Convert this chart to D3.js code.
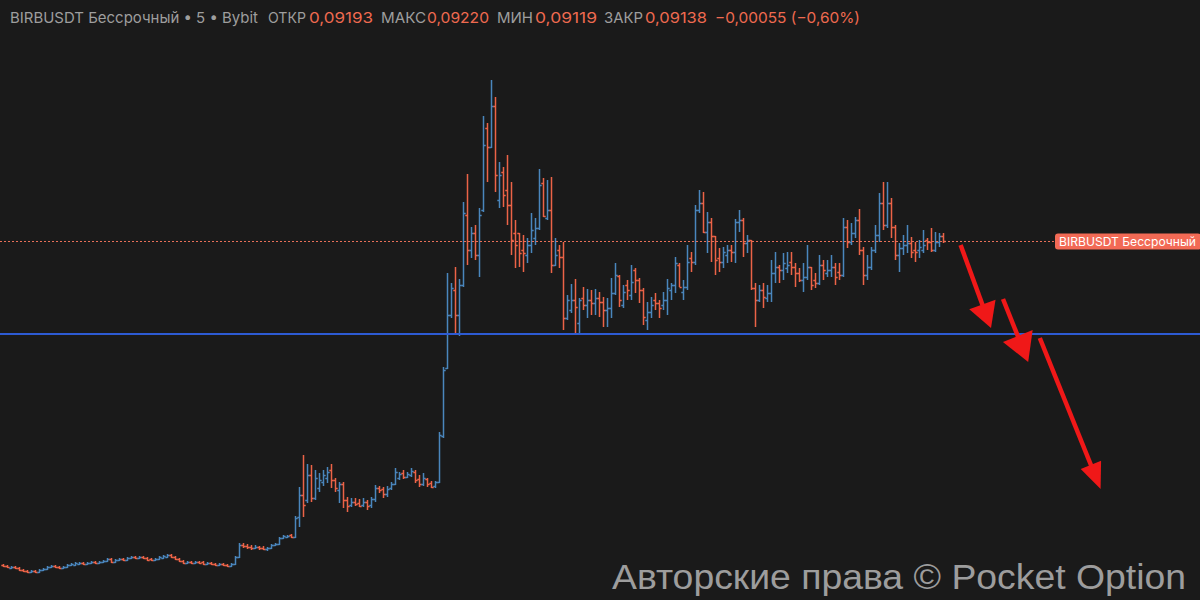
<!DOCTYPE html>
<html>
<head>
<meta charset="UTF-8" />
<title>BIRBUSDT</title>
<style>
  html, body { margin: 0; padding: 0; background: #1a1a1a; }
  svg { display: block; }
  .hdr { font-family: Inter, "Noto Sans", sans-serif; font-size: 15px; }
  .lbl { fill: #9e9e9e; }
  .val { fill: #ef6a50; }
  .wm { font-family: "Liberation Sans", Arial, sans-serif; font-size: 35px; fill: #9d9d9d; }
</style>
<script src="https://cdnjs.cloudflare.com/ajax/libs/d3/7.8.5/d3.min.js"></script>
</head>
<body>
<script>
// BIRBUSDT perpetual, 5 min bars (prices in USDT)
var opens = [
0.0590,0.0589,0.0587,0.0588,0.0587,0.0585,0.0584,0.0583,0.0584,0.0583,
0.0585,0.0586,0.0588,0.0589,0.0588,0.0587,0.0588,0.0590,0.0590,0.0591,
0.0592,0.0591,0.0592,0.0593,0.0592,0.0593,0.0594,0.0596,0.0593,0.0595,
0.0596,0.0595,0.0597,0.0598,0.0597,0.0598,0.0597,0.0596,0.0595,0.0596,
0.0597,0.0598,0.0600,0.0598,0.0596,0.0594,0.0592,0.0593,0.0592,0.0593,
0.0593,0.0591,0.0592,0.0591,0.0590,0.0591,0.0590,0.0589,0.0591,0.0598,
0.0610,0.0609,0.0608,0.0607,0.0608,0.0607,0.0606,0.0607,0.0610,0.0611,
0.0617,0.0618,0.0620,0.0618,0.0638,0.0660,0.0655,0.0680,0.0657,0.0667,
0.0673,0.0677,0.0685,0.0675,0.0665,0.0671,0.0655,0.0650,0.0653,0.0652,
0.0650,0.0653,0.0650,0.0656,0.0667,0.0666,0.0661,0.0667,0.0671,0.0677,
0.0682,0.0678,0.0680,0.0683,0.0676,0.0671,0.0676,0.0672,0.0669,0.0673,
0.0719,0.0787,0.0840,0.0865,0.0840,0.0870,0.0940,0.0905,0.0922,0.0900,
0.0945,0.1027,0.1008,0.1049,0.0955,0.0983,0.0965,0.0950,0.0922,0.0922,
0.0905,0.0900,0.0910,0.0917,0.0927,0.0972,0.0937,0.0945,0.0890,0.0905,
0.0898,0.0837,0.0845,0.0855,0.0832,0.0857,0.0850,0.0855,0.0852,0.0857,
0.0853,0.0845,0.0847,0.0862,0.0879,0.0850,0.0870,0.0860,0.0885,0.0875,
0.0865,0.0835,0.0843,0.0855,0.0852,0.0850,0.0855,0.0865,0.0870,0.0890,
0.0863,0.0868,0.0897,0.0893,0.0945,0.0952,0.0923,0.0933,0.0919,0.0897,
0.0893,0.0900,0.0905,0.0903,0.0933,0.0935,0.0912,0.0915,0.0867,0.0855,
0.0865,0.0857,0.0862,0.0882,0.0888,0.0885,0.0887,0.0893,0.0888,0.0882,
0.0875,0.0878,0.0888,0.0875,0.0872,0.0890,0.0882,0.0885,0.0888,0.0883,
0.0880,0.0928,0.0913,0.0922,0.0935,0.0905,0.0880,0.0888,0.0905,0.0920,
0.0952,0.0930,0.0952,0.0928,0.0900,0.0907,0.0910,0.0912,0.0905,0.0905,
0.0905,0.0915,0.0913,0.0905,0.0913,0.09193];

var highs = [
0.0591,0.0590,0.0589,0.0589,0.0588,0.0586,0.0585,0.0585,0.0585,0.0586,
0.0587,0.0589,0.0590,0.0590,0.0589,0.0589,0.0591,0.0592,0.0593,0.0593,
0.0593,0.0593,0.0594,0.0594,0.0594,0.0595,0.0597,0.0597,0.0596,0.0597,
0.0597,0.0598,0.0599,0.0599,0.0599,0.0599,0.0598,0.0597,0.0597,0.0599,
0.0600,0.0601,0.0601,0.0599,0.0597,0.0595,0.0594,0.0594,0.0594,0.0594,
0.0594,0.0593,0.0593,0.0592,0.0592,0.0592,0.0591,0.0592,0.0599,0.0612,
0.0612,0.0611,0.0610,0.0610,0.0609,0.0609,0.0608,0.0611,0.0612,0.0618,
0.0620,0.0620,0.0621,0.0639,0.0668,0.0700,0.0691,0.0690,0.0685,0.0682,
0.0685,0.0688,0.0691,0.0677,0.0673,0.0673,0.0658,0.0657,0.0657,0.0656,
0.0657,0.0655,0.0658,0.0670,0.0669,0.0668,0.0669,0.0673,0.0687,0.0683,
0.0685,0.0683,0.0687,0.0685,0.0680,0.0682,0.0677,0.0674,0.0674,0.0723,
0.0788,0.0882,0.0872,0.0888,0.0876,0.0953,0.0981,0.0928,0.0930,0.0947,
0.1039,0.1032,0.1075,0.1058,0.0993,0.0988,0.1000,0.0973,0.0935,0.0922,
0.0920,0.0917,0.0942,0.0937,0.0986,0.0977,0.0975,0.0978,0.0917,0.0910,
0.0913,0.0860,0.0871,0.0876,0.0857,0.0868,0.0866,0.0865,0.0866,0.0863,
0.0858,0.0857,0.0877,0.0892,0.0880,0.0870,0.0875,0.0890,0.0887,0.0877,
0.0867,0.0853,0.0858,0.0862,0.0855,0.0863,0.0876,0.0872,0.0898,0.0892,
0.0875,0.0910,0.0903,0.0950,0.0965,0.0963,0.0943,0.0937,0.0919,0.0907,
0.0908,0.0910,0.0910,0.0936,0.0945,0.0937,0.0920,0.0915,0.0872,0.0870,
0.0872,0.0870,0.0895,0.0903,0.0890,0.0902,0.0903,0.0903,0.0892,0.0887,
0.0892,0.0910,0.0888,0.0882,0.0900,0.0895,0.0895,0.0900,0.0892,0.0892,
0.0937,0.0935,0.0932,0.0938,0.0946,0.0908,0.0900,0.0908,0.0930,0.0962,
0.0973,0.0973,0.0957,0.0930,0.0912,0.0920,0.0930,0.0918,0.0913,0.0915,
0.0925,0.0917,0.0927,0.0923,0.0922,0.09220];

var lows = [
0.0588,0.0587,0.0586,0.0586,0.0584,0.0583,0.0582,0.0582,0.0582,0.0582,
0.0584,0.0585,0.0587,0.0587,0.0586,0.0586,0.0587,0.0589,0.0589,0.0590,
0.0590,0.0590,0.0591,0.0591,0.0591,0.0592,0.0593,0.0592,0.0592,0.0594,
0.0594,0.0594,0.0596,0.0596,0.0596,0.0596,0.0594,0.0594,0.0594,0.0595,
0.0596,0.0597,0.0597,0.0595,0.0593,0.0591,0.0591,0.0591,0.0591,0.0591,
0.0590,0.0590,0.0590,0.0589,0.0589,0.0589,0.0588,0.0588,0.0590,0.0597,
0.0607,0.0606,0.0605,0.0606,0.0605,0.0605,0.0604,0.0606,0.0609,0.0610,
0.0616,0.0617,0.0617,0.0617,0.0628,0.0638,0.0652,0.0653,0.0655,0.0663,
0.0669,0.0672,0.0667,0.0663,0.0652,0.0647,0.0643,0.0648,0.0649,0.0648,
0.0648,0.0645,0.0647,0.0653,0.0662,0.0657,0.0658,0.0665,0.0670,0.0675,
0.0676,0.0677,0.0678,0.0672,0.0668,0.0669,0.0668,0.0667,0.0667,0.0672,
0.0717,0.0786,0.0837,0.0822,0.0819,0.0868,0.0890,0.0897,0.0895,0.0878,
0.0943,0.0973,0.1007,0.0963,0.0947,0.0948,0.0930,0.0900,0.0887,0.0888,
0.0883,0.0892,0.0902,0.0910,0.0925,0.0938,0.0935,0.0882,0.0889,0.0887,
0.0825,0.0835,0.0842,0.0821,0.0821,0.0845,0.0837,0.0840,0.0840,0.0838,
0.0828,0.0828,0.0837,0.0860,0.0848,0.0847,0.0855,0.0855,0.0862,0.0852,
0.0830,0.0825,0.0837,0.0845,0.0837,0.0845,0.0840,0.0855,0.0862,0.0868,
0.0855,0.0865,0.0883,0.0890,0.0942,0.0922,0.0902,0.0893,0.0880,0.0883,
0.0887,0.0892,0.0893,0.0892,0.0923,0.0898,0.0902,0.0865,0.0828,0.0853,
0.0847,0.0853,0.0853,0.0872,0.0872,0.0875,0.0882,0.0880,0.0868,0.0873,
0.0863,0.0875,0.0865,0.0867,0.0870,0.0875,0.0878,0.0878,0.0870,0.0875,
0.0878,0.0907,0.0910,0.0917,0.0900,0.0870,0.0875,0.0885,0.0902,0.0913,
0.0925,0.0927,0.0917,0.0895,0.0883,0.0900,0.0902,0.0897,0.0893,0.0897,
0.0902,0.0905,0.0903,0.0903,0.0908,0.09119];

var closes = [
0.0589,0.0588,0.0588,0.0587,0.0585,0.0584,0.0583,0.0584,0.0583,0.0585,
0.0586,0.0588,0.0589,0.0588,0.0587,0.0588,0.0590,0.0591,0.0592,0.0592,
0.0591,0.0592,0.0593,0.0592,0.0593,0.0594,0.0596,0.0593,0.0595,0.0596,
0.0595,0.0597,0.0598,0.0597,0.0598,0.0597,0.0595,0.0595,0.0596,0.0598,
0.0599,0.0600,0.0598,0.0596,0.0594,0.0592,0.0593,0.0592,0.0593,0.0592,
0.0591,0.0592,0.0591,0.0590,0.0591,0.0590,0.0589,0.0591,0.0598,0.0610,
0.0609,0.0608,0.0607,0.0608,0.0607,0.0606,0.0607,0.0610,0.0611,0.0617,
0.0619,0.0619,0.0618,0.0637,0.0660,0.0650,0.0680,0.0657,0.0677,0.0675,
0.0680,0.0683,0.0675,0.0667,0.0671,0.0655,0.0649,0.0653,0.0651,0.0649,
0.0653,0.0649,0.0656,0.0667,0.0665,0.0661,0.0666,0.0671,0.0683,0.0681,
0.0678,0.0681,0.0684,0.0675,0.0671,0.0677,0.0671,0.0668,0.0673,0.0720,
0.0785,0.0840,0.0867,0.0840,0.0870,0.0942,0.0905,0.0922,0.0900,0.0940,
0.1010,0.1008,0.1049,0.0980,0.0980,0.0960,0.0950,0.0915,0.0910,0.0902,
0.0902,0.0910,0.0925,0.0927,0.0970,0.0939,0.0945,0.0890,0.0900,0.0898,
0.0837,0.0855,0.0855,0.0848,0.0855,0.0850,0.0855,0.0852,0.0857,0.0853,
0.0845,0.0847,0.0862,0.0880,0.0855,0.0863,0.0865,0.0873,0.0875,0.0865,
0.0838,0.0843,0.0850,0.0852,0.0847,0.0855,0.0867,0.0870,0.0892,0.0868,
0.0868,0.0893,0.0893,0.0945,0.0952,0.0923,0.0933,0.0919,0.0895,0.0893,
0.0903,0.0905,0.0903,0.0933,0.0935,0.0912,0.0915,0.0867,0.0855,0.0865,
0.0858,0.0862,0.0882,0.0888,0.0885,0.0892,0.0890,0.0888,0.0882,0.0875,
0.0878,0.0888,0.0870,0.0872,0.0890,0.0885,0.0885,0.0888,0.0878,0.0880,
0.0928,0.0913,0.0922,0.0935,0.0905,0.0880,0.0888,0.0905,0.0920,0.0952,
0.0930,0.0952,0.0928,0.0900,0.0907,0.0910,0.0912,0.0903,0.0903,0.0908,
0.0910,0.0913,0.0905,0.0913,0.09193,0.09138];

// support level (blue horizontal line)
var supportLevel = 0.0821;

// hand drawn arrows, [bar index, price]
var arrows = [
  { from: [239.4, 0.0910], to: [247.0, 0.0827], head: [25, 14] },
  { from: [250.0, 0.0856], to: [256.3, 0.0793], head: [28, 16] },
  { from: [259.2, 0.0817], to: [274.4, 0.0666], head: [26, 11] }
];

var symbol = "BIRBUSDT Бессрочный";
var headerName = symbol + " \u2022 5 \u2022 Bybit";

var width = 1200, height = 600;
var n = closes.length;

var x = d3.scaleLinear().domain([0, n - 1]).range([3, 943]);
var y = d3.scaleLinear().domain([0.0555, 0.1155]).range([height, 0]);

var upColor = "#4a86bd", downColor = "#ec6347";

var svg = d3.select("body").append("svg")
    .attr("width", width)
    .attr("height", height);

svg.append("rect").attr("width", width).attr("height", height).attr("fill", "#1a1a1a");

var bars = d3.range(n).map(function(i) {
  return { i: i, o: opens[i], h: highs[i], l: lows[i], c: closes[i] };
});

// OHLC bars
svg.append("g").selectAll("path")
  .data(bars)
  .join("path")
  .attr("fill", "none")
  .attr("stroke-width", 1.5)
  .attr("stroke", function(d) { return d.c >= d.o ? upColor : downColor; })
  .attr("d", function(d) {
    var xx = Math.round(x(d.i)) + 0.5;
    var yo = Math.round(y(d.o)) + 0.5, yc = Math.round(y(d.c)) + 0.5;
    return "M" + xx + "," + y(d.h) + "V" + y(d.l) +
      "M" + (xx - 2.2) + "," + yo + "H" + xx +
      "M" + xx + "," + yc + "H" + (xx + 2.2);
  });

// support line
svg.append("line")
  .attr("x1", 0).attr("x2", width)
  .attr("y1", Math.round(y(supportLevel))).attr("y2", Math.round(y(supportLevel)))
  .attr("stroke", "#2d5bd3").attr("stroke-width", 2);

// last price line + label
var last = bars[n - 1];
var yLast = Math.round(y(last.c)) + 0.5;
svg.append("line")
  .attr("x1", 0).attr("x2", 1054)
  .attr("y1", yLast).attr("y2", yLast)
  .attr("stroke", "#e87058").attr("stroke-width", 1)
  .attr("stroke-dasharray", "2,2");

svg.append("rect")
  .attr("x", 1055).attr("y", yLast - 8)
  .attr("width", 146).attr("height", 16)
  .attr("rx", 3)
  .attr("fill", "#f26a55");
svg.append("text")
  .attr("x", 1059).attr("y", yLast + 4.5)
  .attr("font-family", "Inter, 'Noto Sans', sans-serif")
  .attr("font-size", 12)
  .attr("fill", "#ffffff")
  .attr("textLength", 137)
  .attr("lengthAdjust", "spacingAndGlyphs")
  .text(symbol);

// arrows
var red = "#f01818";
arrows.forEach(function(a) {
  var x1 = x(a.from[0]), y1 = y(a.from[1]);
  var x2 = x(a.to[0]), y2 = y(a.to[1]);
  var dx = x2 - x1, dy = y2 - y1, len = Math.sqrt(dx * dx + dy * dy);
  var ux = dx / len, uy = dy / len;
  var bx = x2 - ux * a.head[0], by = y2 - uy * a.head[0];
  var px = -uy * a.head[1], py = ux * a.head[1];
  svg.append("line")
    .attr("x1", x1).attr("y1", y1).attr("x2", bx + ux * 2).attr("y2", by + uy * 2)
    .attr("stroke", red).attr("stroke-width", 4.5);
  svg.append("path")
    .attr("d", "M" + x2 + "," + y2 + "L" + (bx + px) + "," + (by + py) + "L" + (bx - px) + "," + (by - py) + "Z")
    .attr("fill", red);
});

// header
var fmt = function(v) { return d3.format(".5f")(Math.abs(v)).replace(".", ","); };
var prev = closes[n - 2];
var chg = last.c - prev;
var pct = chg / prev * 100;
var sign = chg < 0 ? "\u2212" : "+";
var header = [
  { t: headerName, x: 10, w: 248, cls: "lbl" },
  { t: "ОТКР", x: 268, w: 38, cls: "lbl" },
  { t: fmt(last.o), x: 309, w: 64, cls: "val" },
  { t: "МАКС", x: 381, w: 45, cls: "lbl" },
  { t: fmt(last.h), x: 427, w: 62, cls: "val" },
  { t: "МИН", x: 497, w: 36, cls: "lbl" },
  { t: fmt(last.l), x: 535, w: 62, cls: "val" },
  { t: "ЗАКР", x: 604, w: 39, cls: "lbl" },
  { t: fmt(last.c), x: 645, w: 62, cls: "val" },
  { t: sign + fmt(chg) + " (" + sign + Math.abs(pct).toFixed(2).replace(".", ",") + "%)", x: 715, w: 145, cls: "val" }
];
svg.append("g").selectAll("text")
  .data(header)
  .join("text")
  .attr("class", function(d) { return "hdr " + d.cls; })
  .attr("x", function(d) { return d.x; })
  .attr("y", 23)
  .attr("textLength", function(d) { return d.w; })
  .attr("lengthAdjust", "spacingAndGlyphs")
  .text(function(d) { return d.t; });

// watermark
svg.append("text")
  .attr("class", "wm")
  .attr("x", 612).attr("y", 589)
  .attr("textLength", 574)
  .attr("lengthAdjust", "spacingAndGlyphs")
  .text("Авторские права © Pocket Option");
</script>
</body>
</html>
